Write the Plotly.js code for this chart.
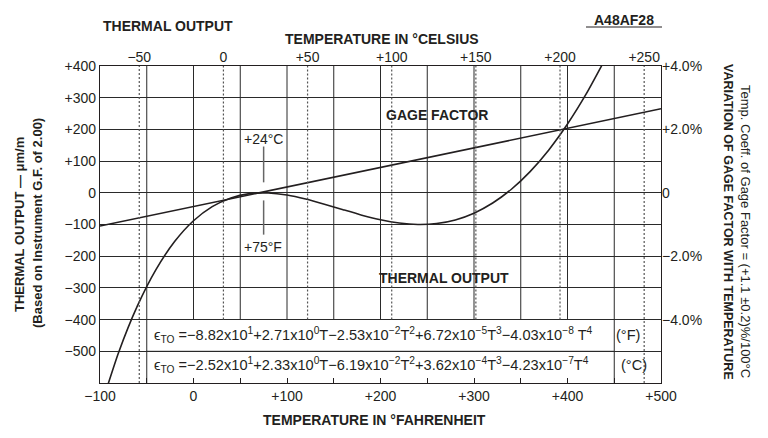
<!DOCTYPE html>
<html>
<head>
<meta charset="utf-8">
<script src="https://cdn.plot.ly/plotly-3.0.1.min.js"></script>
<style>html,body{margin:0;padding:0;background:#fff;}#chart{width:768px;height:438px;}</style>
</head>
<body>
<div id="chart"></div>
<script>
// ---------- data ----------
const fahrenheit = [-100,-80,-60,-40,-20,0,20,40,60,80,100,120,140,160,180,200,220,240,260,280,300,320,340,360,380,400,420,440];
const thermalOutput = [-683.4,-503.0,-356.9,-241.5,-153.1,-88.2,-43.6,-16.1,-2.7,-0.6,-7.0,-19.6,-35.8,-53.4,-70.5,-85.1,-95.4,-99.8,-96.9,-85.5,-64.2,-32.3,11.2,66.9,135.4,216.9,311.8,420.0];
const gageTemps = [-100, 500];
const gagePercent = [-1.05, 2.65];

const fTickVals = [-100,-50,0,50,100,150,200,250,300,350,400,450,500];
const fTickText = ['\u2212100','','0','','+100','','+200','','+300','','+400','','+500'];
const cTickVals = [-50,0,50,100,150,200,250];
const cTickText = ['\u221250','0','+50','+100','+150','+200','+250'];
const yTickVals = [-500,-400,-300,-200,-100,0,100,200,300,400];
const yTickText = ['\u2212500','\u2212400','\u2212300','\u2212200','\u2212100','0','+100','+200','+300','+400'];
const gTickVals = [-4,-2,0,2,4];
const gTickText = ['\u22124.0%','\u22122.0%','0','+2.0%','+4.0%'];

const fGrid = [-50,0,50,100,150,200,250,300,350,400,450];
const tableEdgesF = [-50, 450];
const tableTop = -400;
const yMin = -600, yMax = 400;
const refF = 75;

// ---------- layout constants ----------
const FONT = 'Liberation Sans, Arial, Helvetica, sans-serif';
const INK = '#231f20';
const L = 100, R = 661, T = 66, B = 383, W = 768, H = 438;
function px(x){ return (x - L) / (R - L); }
function py(y){ return (B - y) / (B - T); }
const cToF = c => c * 1.8 + 32;

// vertical solid grid
const vgx = [], vgy = [];
fGrid.forEach(f => {
  const full = tableEdgesF.indexOf(f) >= 0;
  vgx.push(f, f, null); vgy.push(full ? yMin : tableTop, yMax, null);
});
// celsius dotted grid
const cgx = [], cgy = [];
cTickVals.forEach(c => {
  const f = cToF(c);
  const full = f < tableEdgesF[0] || f > tableEdgesF[1];
  cgx.push(c, c, null); cgy.push(full ? yMin : tableTop, yMax, null);
});

const traces = [
  {x: vgx, y: vgy, xaxis:'x', yaxis:'y', mode:'lines', line:{color:'#2a2a2a', width:1}, hoverinfo:'skip', showlegend:false},
  {x: cgx, y: cgy, xaxis:'x2', yaxis:'y', mode:'lines', line:{color:'#555', width:1.2, dash:'2px,2px'}, hoverinfo:'skip', showlegend:false},
  {x: [tableEdgesF[0], tableEdgesF[1]], y: [-500, -500], xaxis:'x', yaxis:'y', mode:'lines', line:{color:'#2a2a2a', width:1}, hoverinfo:'skip', showlegend:false},
  {x: fahrenheit, y: thermalOutput, xaxis:'x', yaxis:'y', mode:'lines', line:{color:INK, width:1.6, shape:'spline', smoothing:0.6}, name:'Thermal output', showlegend:false},
  {x: gageTemps, y: gagePercent, xaxis:'x', yaxis:'y2', mode:'lines', line:{color:INK, width:1.6}, name:'Gage factor', showlegend:false}
];

const tf = {family: FONT, size: 14, color: INK};
const bold = (s) => '<b>' + s + '</b>';

function ann(text, x, y, opts){
  return Object.assign({text: text, xref:'paper', yref:'paper', x: px(x), y: py(y), showarrow:false,
    xanchor:'center', yanchor:'middle', font:{family:FONT, size:14, color:INK}}, opts || {});
}
const eqFont = {family:FONT, size:14.6, color:INK};

const annotations = [
  ann(bold('THERMAL OUTPUT'), 168, 26),
  ann(bold('TEMPERATURE IN \u00b0CELSIUS'), 382, 39),
  ann(bold('A48AF28'), 624, 20),
  ann(bold('TEMPERATURE IN \u00b0FAHRENHEIT'), 374, 420),
  ann(bold('GAGE FACTOR'), 437, 115),
  ann(bold('THERMAL OUTPUT'), 444, 278),
  ann('+24\u00b0C', 263, 139),
  ann('+75\u00b0F', 263, 247),
  ann('\u03f5<sub>TO</sub> =\u22128.82x10<sup>1</sup>+2.71x10<sup>0</sup>T\u22122.53x10<sup>\u22122</sup>T<sup>2</sup>+6.72x10<sup>\u22125</sup>T<sup>3</sup>\u22124.03x10<sup>\u22128</sup> T<sup>4</sup>', 152, 335, {xanchor:'left', font:eqFont}),
  ann('(\u00b0F)', 628, 335, {font:eqFont}),
  ann('\u03f5<sub>TO</sub> =\u22122.52x10<sup>1</sup>+2.33x10<sup>0</sup>T\u22126.19x10<sup>\u22122</sup>T<sup>2</sup>+3.62x10<sup>\u22124</sup>T<sup>3</sup>\u22124.23x10<sup>\u22127</sup>T<sup>4</sup>', 152, 365, {xanchor:'left', font:eqFont}),
  ann('(\u00b0C)', 634, 365, {font:eqFont}),
  ann(bold('THERMAL OUTPUT \u2014 \u03bcm/m'), 19, 225, {textangle:-90, font:{family:FONT,size:13,color:INK}}),
  ann(bold('(Based on Instrument G.F. of 2.00)'), 37, 223, {textangle:-90, font:{family:FONT,size:13,color:INK}}),
  ann('Temp. Coeff. of Gage Factor = (+1.1 \u00b10.2)%/100\u00b0C', 746, 231, {textangle:90, font:{family:FONT,size:13,color:INK}}),
  ann(bold('VARIATION OF GAGE FACTOR WITH TEMPERATURE'), 728, 222, {textangle:90, font:{family:FONT,size:12.5,color:INK}})
];

const shapes = [
  {type:'line', xref:'paper', yref:'paper', x0: px(586), x1: px(662), y0: py(27), y1: py(27), line:{color:INK, width:1}},
  {type:'line', xref:'x', yref:'y', x0: refF, x1: refF, y0: 146, y1: 33, line:{color:'#666', width:1.5}},
  {type:'line', xref:'x', yref:'y', x0: refF, x1: refF, y0: -24, y1: -132, line:{color:'#666', width:1.5}}
];

const layout = {
  width: W, height: H,
  margin: {l: L, r: W - R, t: T, b: H - B, pad: 0},
  paper_bgcolor:'#fff', plot_bgcolor:'#fff',
  font: {family: FONT, color: INK, size: 14},
  showlegend: false,
  xaxis: {range:[-100, 500], tickvals: fTickVals, ticktext: fTickText, ticks:'inside', ticklen:5, tickcolor:INK,
          showgrid:false, zeroline:false, showline:true, mirror:true, linecolor:INK, linewidth:1.2,
          tickfont: tf, ticklabelstandoff: 0},
  xaxis2: {range:[(-100-32)/1.8, (500-32)/1.8], overlaying:'x', side:'top', anchor:'y', tickvals: cTickVals, ticktext: cTickText,
           ticks:'', showgrid:false, zeroline:false, showline:false, tickfont: tf},
  yaxis: {range:[yMin, yMax], tickvals: yTickVals, ticktext: yTickText, ticks:'', showgrid:true, gridcolor:'#2a2a2a', gridwidth:1,
          zeroline:false, showline:true, mirror:true, linecolor:INK, linewidth:1.2, tickfont: tf},
  yaxis2: {range:[-6, 4], overlaying:'y', side:'right', anchor:'x', tickvals: gTickVals, ticktext: gTickText, ticks:'',
           showgrid:false, zeroline:false, showline:false, tickfont: tf},
  annotations: annotations,
  shapes: shapes
};

Plotly.newPlot('chart', traces, layout, {displayModeBar:false, staticPlot:true});
</script>
</body>
</html>
